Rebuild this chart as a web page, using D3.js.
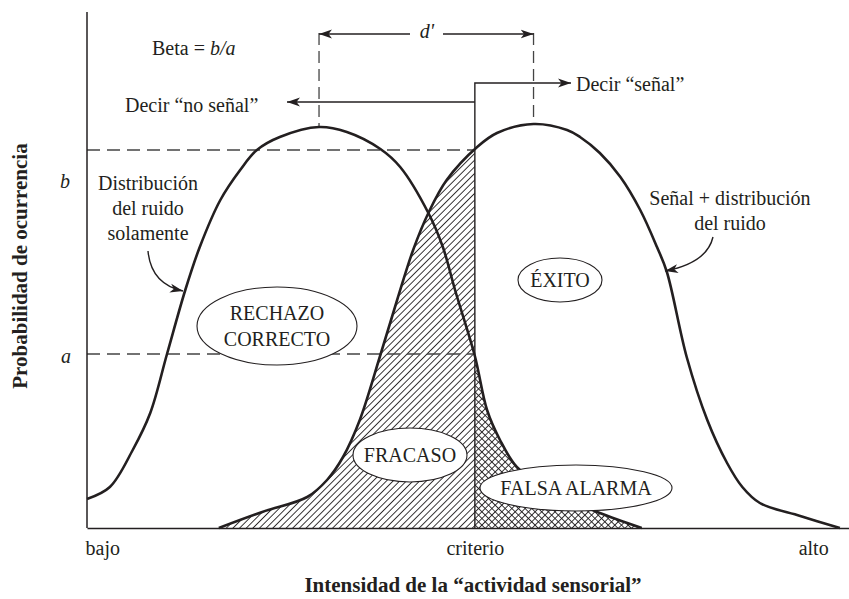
<!DOCTYPE html>
<html>
<head>
<meta charset="utf-8">
<script src="https://cdn.jsdelivr.net/npm/d3@7"></script>
<style>
  body { margin: 0; background: #fff; }
  text { font-family: "Liberation Serif", "Times New Roman", serif; fill: #231f20; }
</style>
</head>
<body>
<div id="chart"></div>
<script>
// Chart data (x: sensory intensity 0-100, y: probability 0-100)
// ================================
var noiseX = [0, 3.0, 6.0, 8.3, 10.5, 12.9, 14.8, 17.5, 20.1, 22.3, 25.3, 30.45, 34.1, 38.5, 41.1, 44.8, 46.7, 48.3, 50.9, 52.5, 54.2, 56.4, 59.5, 63.4, 67.3, 72.8];
var noiseY = [5.8, 8.2, 15.6, 23.0, 34.8, 47.6, 56.2, 65.6, 71.6, 75.6, 78.2, 80.2, 79.2, 75.8, 72.2, 63.0, 56.2, 47.6, 34.4, 23.6, 17.6, 12.2, 8.8, 5.6, 3.0, 0];

var signalX = [17.3, 23.0, 28.9, 31.5, 33.6, 35.8, 38.5, 40.7, 42.8, 44.8, 47.2, 51.2, 53.8, 58.6, 63.0, 64.7, 67.3, 70.0, 72.6, 74.8, 76.1, 78.7, 81.4, 84.0, 86.0, 88.3, 93.6, 98.8];
var signalY = [0, 3.2, 6.2, 9.6, 14.2, 21.6, 34.6, 45.6, 55.6, 63.0, 69.6, 76.2, 79.0, 80.8, 79.6, 78.2, 75.0, 70.2, 63.6, 56.2, 51.2, 34.2, 21.6, 13.0, 8.2, 5.0, 2.4, 0];

var criterion = 50.9;
var levelA = 34.8;
var levelB = 75.6;
var noiseMean = 30.45;
var signalMean = 58.6;
var noisePeak = 80.2;
var signalPeak = 80.8;

var xTickValues = [2, 50.9, 95.3];
var xTickLabels = ["bajo", "criterio", "alto"];

// Set up our chart
// ================================
var svgWidth = 849;
var svgHeight = 599;

var svg = d3
  .select("#chart")
  .append("svg")
  .attr("width", svgWidth)
  .attr("height", svgHeight);

var x = d3.scaleLinear().domain([0, 100]).range([87, 849]);
var y = d3.scaleLinear().domain([0, 100]).range([528, 28]);

var ink = "#231f20";
var noise = noiseX.map((d, i) => [d, noiseY[i]]);
var signal = signalX.map((d, i) => [d, signalY[i]]);

// patterns, markers, clips
var defs = svg.append("defs");

var diag = defs
  .append("pattern")
  .attr("id", "diag")
  .attr("patternUnits", "userSpaceOnUse")
  .attr("width", 4.7)
  .attr("height", 4.7)
  .attr("patternTransform", "rotate(45)");
diag.append("line")
  .attr("x1", 2.35).attr("y1", -1).attr("x2", 2.35).attr("y2", 6)
  .attr("stroke", ink).attr("stroke-width", 0.9);

var cross = defs
  .append("pattern")
  .attr("id", "cross")
  .attr("patternUnits", "userSpaceOnUse")
  .attr("width", 4.7)
  .attr("height", 4.7)
  .attr("patternTransform", "rotate(45)");
cross.append("line")
  .attr("x1", 2.35).attr("y1", -1).attr("x2", 2.35).attr("y2", 6)
  .attr("stroke", ink).attr("stroke-width", 0.9);
cross.append("line")
  .attr("x1", -1).attr("y1", 2.35).attr("x2", 6).attr("y2", 2.35)
  .attr("stroke", ink).attr("stroke-width", 0.9);

defs.append("marker")
  .attr("id", "arrow")
  .attr("markerUnits", "userSpaceOnUse")
  .attr("markerWidth", 14)
  .attr("markerHeight", 10)
  .attr("refX", 13)
  .attr("refY", 5)
  .attr("orient", "auto")
  .append("path")
  .attr("d", "M0,0.5 L13,5 L0,9.5 L3.5,5 Z")
  .attr("fill", ink);

defs.append("clipPath").attr("id", "leftClip")
  .append("rect")
  .attr("x", x(0)).attr("y", 0)
  .attr("width", x(criterion) - x(0)).attr("height", svgHeight);

defs.append("clipPath").attr("id", "rightClip")
  .append("rect")
  .attr("x", x(criterion)).attr("y", 0)
  .attr("width", x(100) - x(criterion)).attr("height", svgHeight);

var smooth = d3.curveCatmullRom.alpha(0.5);

var area = d3.area()
  .x((d) => x(d[0]))
  .y0(y(0))
  .y1((d) => y(d[1]))
  .curve(smooth);

var line = d3.line()
  .x((d) => x(d[0]))
  .y((d) => y(d[1]))
  .curve(smooth);

// hatched regions
svg.append("path")
  .attr("d", area(signal))
  .attr("fill", "url(#diag)")
  .attr("clip-path", "url(#leftClip)");

svg.append("path")
  .attr("d", area(noise))
  .attr("fill", "url(#cross)")
  .attr("clip-path", "url(#rightClip)");

// dashed reference lines
var dash = svg.append("g")
  .attr("stroke", "#444")
  .attr("stroke-width", 1.3)
  .attr("stroke-dasharray", "13,7")
  .attr("fill", "none");

dash.append("line")
  .attr("x1", x(0)).attr("x2", x(criterion))
  .attr("y1", y(levelB)).attr("y2", y(levelB));
dash.append("line")
  .attr("x1", x(0)).attr("x2", x(criterion))
  .attr("y1", y(levelA)).attr("y2", y(levelA));
dash.append("line")
  .attr("x1", x(noiseMean)).attr("x2", x(noiseMean))
  .attr("y1", 33).attr("y2", y(noisePeak))
  .attr("stroke-dasharray", "12,6");
dash.append("line")
  .attr("x1", x(signalMean)).attr("x2", x(signalMean))
  .attr("y1", 33).attr("y2", y(signalPeak))
  .attr("stroke-dasharray", "12,6");

// axes
var xAxis = svg.append("g")
  .attr("transform", `translate(0, ${y(0)})`)
  .call(
    d3.axisBottom(x)
      .tickValues(xTickValues)
      .tickFormat((d, i) => xTickLabels[i])
      .tickSize(0)
      .tickPadding(13)
  );
xAxis.select(".domain").attr("stroke", ink).attr("stroke-width", 1.5);
xAxis.selectAll("text")
  .attr("font-family", "Liberation Serif")
  .style("font-size", "20px")
  .attr("fill", ink);

svg.append("line")
  .attr("x1", x(0)).attr("x2", x(0))
  .attr("y1", y(0)).attr("y2", 12)
  .attr("stroke", ink)
  .attr("stroke-width", 1.5);

// curves
svg.append("path")
  .attr("d", line(noise))
  .attr("fill", "none")
  .attr("stroke", ink)
  .attr("stroke-width", 2.6);

svg.append("path")
  .attr("d", line(signal))
  .attr("fill", "none")
  .attr("stroke", ink)
  .attr("stroke-width", 2.6);

// criterion + arrows
var arrows = svg.append("g")
  .attr("stroke", ink)
  .attr("stroke-width", 1.4)
  .attr("fill", "none");

var cx = x(criterion);
arrows.append("path")
  .attr("d", `M${cx},${y(0)} V83 H571`)
  .attr("marker-end", "url(#arrow)");
arrows.append("path")
  .attr("d", `M${cx},102 H287`)
  .attr("marker-end", "url(#arrow)");
arrows.append("path")
  .attr("d", `M410,34 H${x(noiseMean)}`)
  .attr("marker-end", "url(#arrow)");
arrows.append("path")
  .attr("d", `M443,34 H${x(signalMean)}`)
  .attr("marker-end", "url(#arrow)");
arrows.append("path")
  .attr("d", "M148,251 Q151,284 183,291")
  .attr("marker-end", "url(#arrow)");
arrows.append("path")
  .attr("d", "M713,237 Q707,263 665,271")
  .attr("marker-end", "url(#arrow)");

// ellipses with labels
var ovals = [
  { cx: 277, cy: 326, rx: 80, ry: 39, lines: ["RECHAZO", "CORRECTO"] },
  { cx: 560, cy: 280, rx: 42, ry: 22, lines: ["ÉXITO"] },
  { cx: 410, cy: 455, rx: 57, ry: 27, lines: ["FRACASO"] },
  { cx: 576, cy: 488, rx: 96, ry: 23, lines: ["FALSA ALARMA"] },
];

ovals.forEach(function (o) {
  svg.append("ellipse")
    .attr("cx", o.cx).attr("cy", o.cy)
    .attr("rx", o.rx).attr("ry", o.ry)
    .attr("fill", "#fff")
    .attr("stroke", ink)
    .attr("stroke-width", 1.1);
  var n = o.lines.length;
  o.lines.forEach(function (t, i) {
    svg.append("text")
      .attr("x", o.cx)
      .attr("y", o.cy + 7 + (i - (n - 1) / 2) * 26)
      .attr("text-anchor", "middle")
      .style("font-size", "20px")
      .text(t);
  });
});

// text labels
function label(tx, ty, str, anchor) {
  return svg.append("text")
    .attr("x", tx)
    .attr("y", ty)
    .attr("text-anchor", anchor || "start")
    .style("font-size", "20px")
    .text(str);
}

var beta = svg.append("text")
  .attr("x", 152).attr("y", 55)
  .style("font-size", "20px");
beta.append("tspan").text("Beta = ");
beta.append("tspan").attr("font-style", "italic").text("b/a");

label(125, 112, "Decir \u201cno señal\u201d");
label(576, 91, "Decir \u201cseñal\u201d");
label(427, 38, "d'", "middle").attr("font-style", "italic");

label(148, 190, "Distribución", "middle");
label(148, 215, "del ruido", "middle");
label(148, 240, "solamente", "middle");

label(730, 205, "Señal + distribución", "middle");
label(730, 230, "del ruido", "middle");

label(65, y(levelB) + 38, "b", "middle").attr("font-style", "italic");
label(66, y(levelA) + 9, "a", "middle").attr("font-style", "italic");

// axis titles
svg.append("text")
  .attr("x", 473)
  .attr("y", 592)
  .attr("text-anchor", "middle")
  .attr("font-weight", "bold")
  .style("font-size", "21px")
  .text("Intensidad de la \u201cactividad sensorial\u201d");

svg.append("text")
  .attr("transform", "translate(27, 266) rotate(-90)")
  .attr("text-anchor", "middle")
  .attr("font-weight", "bold")
  .style("font-size", "21px")
  .text("Probabilidad de ocurrencia");
</script>
</body>
</html>
